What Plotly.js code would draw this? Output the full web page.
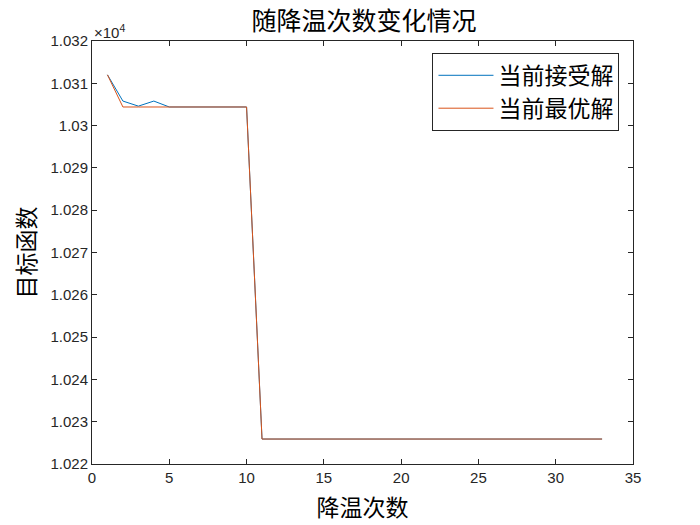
<!DOCTYPE html>
<html><head><meta charset="utf-8">
<script src="https://cdn.plot.ly/plotly-3.0.1.min.js"></script>
<style>body{margin:0;background:#fff}#c{width:700px;height:525px}</style>
</head><body><div id="c"></div>
<script>
const iters = [];
for (let i = 1; i <= 33; i++) iters.push(i);
const accepted = [10312.0, 10305.8, 10304.6, 10305.8, 10304.4, 10304.4, 10304.4, 10304.4, 10304.4, 10304.4,
  10225.9, 10225.9, 10225.9, 10225.9, 10225.9, 10225.9, 10225.9, 10225.9, 10225.9, 10225.9,
  10225.9, 10225.9, 10225.9, 10225.9, 10225.9, 10225.9, 10225.9, 10225.9, 10225.9, 10225.9,
  10225.9, 10225.9, 10225.9];
const best = [10312.0, 10304.4, 10304.4, 10304.4, 10304.4, 10304.4, 10304.4, 10304.4, 10304.4, 10304.4,
  10225.9, 10225.9, 10225.9, 10225.9, 10225.9, 10225.9, 10225.9, 10225.9, 10225.9, 10225.9,
  10225.9, 10225.9, 10225.9, 10225.9, 10225.9, 10225.9, 10225.9, 10225.9, 10225.9, 10225.9,
  10225.9, 10225.9, 10225.9];
const yTickVals = [10220, 10230, 10240, 10250, 10260, 10270, 10280, 10290, 10300, 10310, 10320];
const yTickText = ['1.022', '1.023', '1.024', '1.025', '1.026', '1.027', '1.028', '1.029', '1.03', '1.031', '1.032'];
const seriesNames = ['当前接受解', '当前最优解'];

const cjk = '"Noto Sans CJK SC", sans-serif';
const latin = '"Liberation Sans", Arial, sans-serif';

const traces = [
  {x: iters, y: accepted, type: 'scatter', mode: 'lines', name: seriesNames[0], line: {color: '#0072BD', width: 1}},
  {x: iters, y: best, type: 'scatter', mode: 'lines', name: seriesNames[1], line: {color: '#D95319', width: 1}}
];
const layout = {
  width: 700, height: 525,
  margin: {l: 92, r: 67, t: 41, b: 61},
  paper_bgcolor: '#fff', plot_bgcolor: '#fff',
  title: {text: '随降温次数变化情况', font: {family: cjk, size: 25, color: '#000'}, x: 0.52, xanchor: 'center', y: 0.96, yanchor: 'middle'},
  xaxis: {
    range: [0, 35], tickvals: [0, 5, 10, 15, 20, 25, 30, 35],
    ticks: 'inside', ticklen: 5, tickcolor: '#262626', showline: true, linecolor: '#262626', linewidth: 1,
    mirror: 'ticks', showgrid: false, zeroline: false,
    tickfont: {family: latin, size: 15, color: '#262626'},
    title: {text: '降温次数', font: {family: cjk, size: 23, color: '#000'}, standoff: 14}
  },
  yaxis: {
    range: [10220, 10320], tickvals: yTickVals, ticktext: yTickText,
    ticks: 'inside', ticklen: 5, tickcolor: '#262626', showline: true, linecolor: '#262626', linewidth: 1,
    mirror: 'ticks', showgrid: false, zeroline: false,
    tickfont: {family: latin, size: 15, color: '#262626'},
    title: {text: '目标函数', font: {family: cjk, size: 23, color: '#000'}, standoff: 8}
  },
  legend: {
    x: 0.975, y: 0.972, xanchor: 'right', yanchor: 'top',
    bordercolor: '#262626', borderwidth: 1, bgcolor: '#fff',
    font: {family: cjk, size: 23, color: '#000'},
    itemwidth: 55, tracegroupgap: 0
  },
  showlegend: true,
  annotations: [{
    text: '×10<sup>4</sup>', xref: 'paper', yref: 'paper', x: 0, y: 1, xanchor: 'left', yanchor: 'bottom',
    showarrow: false, font: {family: latin, size: 15, color: '#262626'}, yshift: -2
  }]
};
Plotly.newPlot('c', traces, layout, {displayModeBar: false});
</script>
</body></html>
